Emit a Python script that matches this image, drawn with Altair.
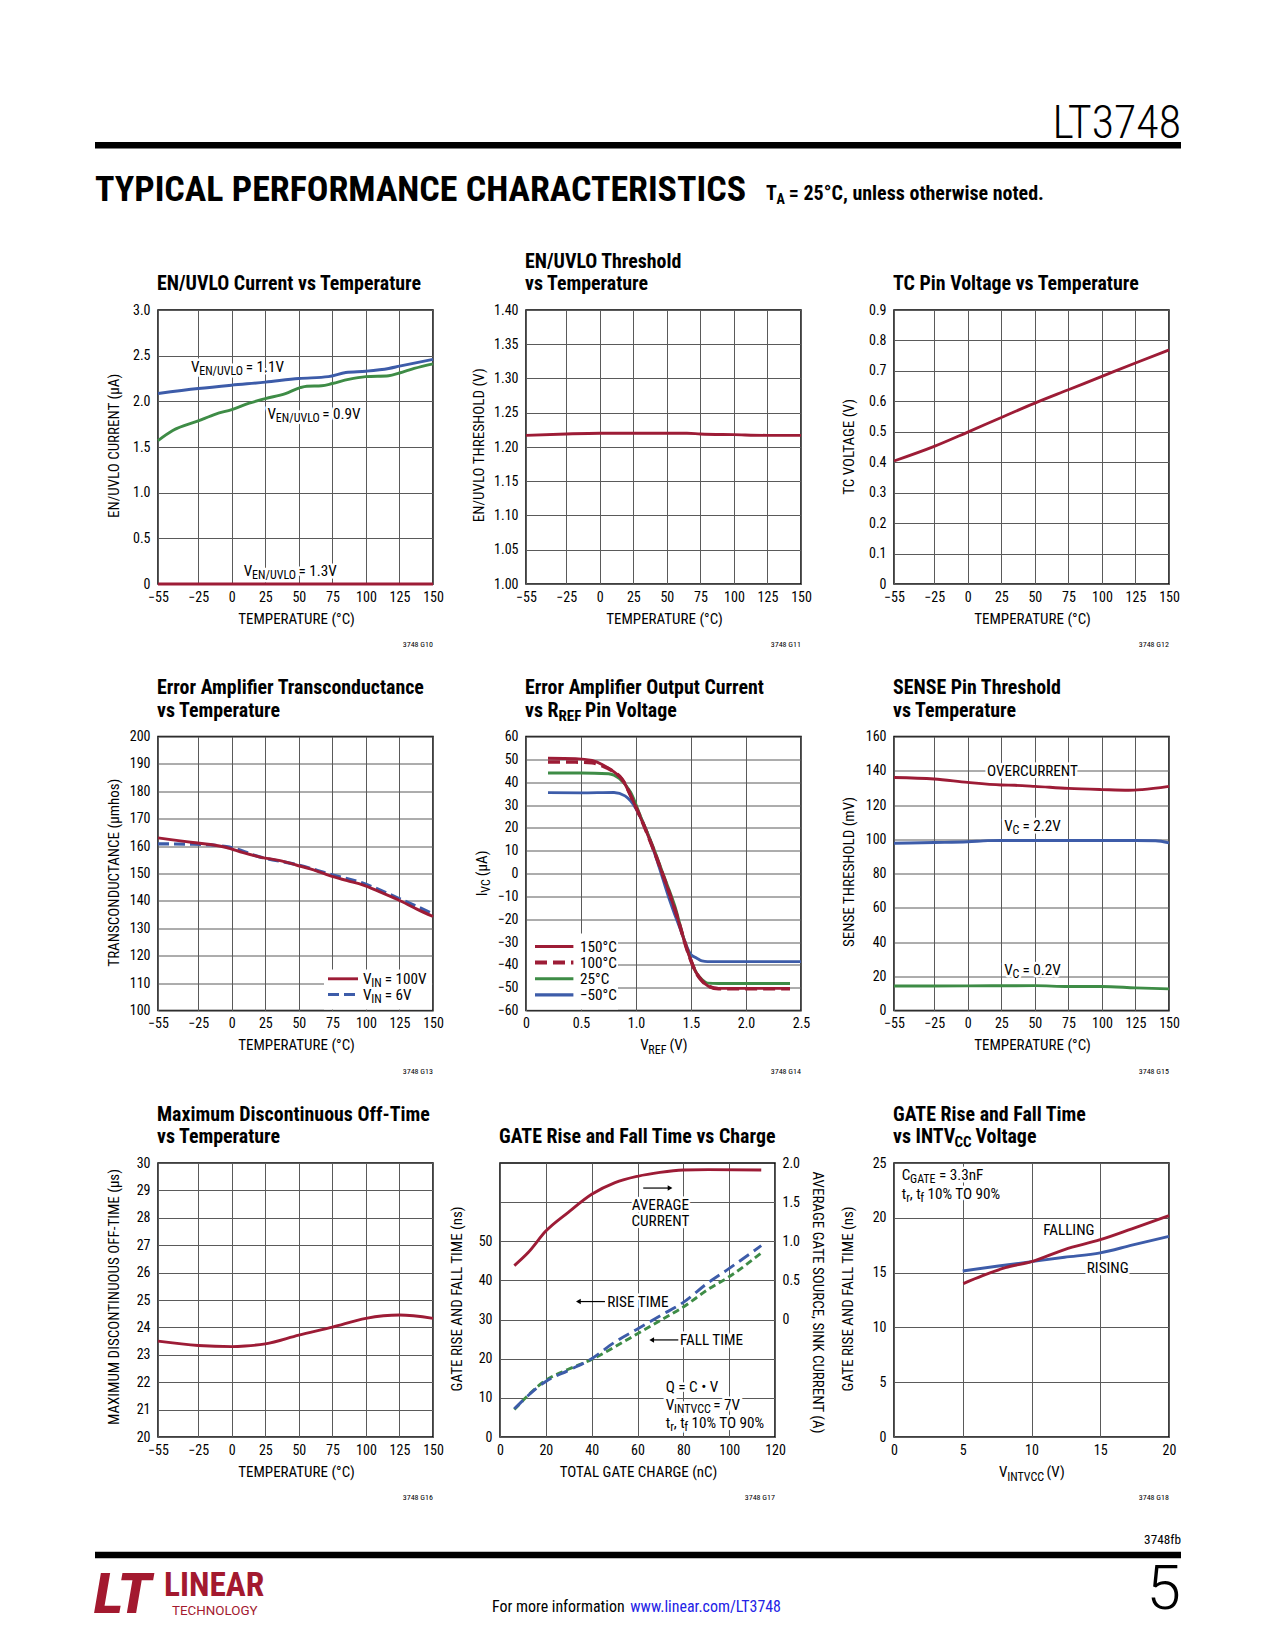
import altair as alt
import pandas as pd

FONT = "Roboto Condensed, Roboto"
WIDEFONT = "Roboto"
RED = "#9d1c36"
BLUE = "#3d5ca9"
GREEN = "#3e8c46"
GRID = "#5a5a5a"
LOGO = "#a3192f"
LINK = "#2323e6"
W, H = 275, 274
TICK = 14
AXT = 15
ANN = 15.2
SUB = 12
TTL = 19.9
LW = 2.9
LBL1 = "datum.value == 0 ? '0' : format(datum.value, '.1f')"

# ---------------- data ----------------
TEMP_TICKS = [-55, -25, 0, 25, 50, 75, 100, 125, 150]

# 1 EN/UVLO current vs temperature
c1_hi_t = [-55, -25, 0, 25, 50, 72, 85, 100, 117, 125, 150]
c1_hi_i = [2.085, 2.14, 2.177, 2.21, 2.25, 2.27, 2.316, 2.33, 2.36, 2.385, 2.46]
c1_lo_t = [-55, -44, -25, -12, 0, 13, 25, 40, 51, 56, 67, 75, 87, 100, 117, 125, 136, 150]
c1_lo_i = [1.57, 1.68, 1.785, 1.86, 1.91, 1.98, 2.03, 2.085, 2.15, 2.165, 2.17, 2.195, 2.24, 2.27, 2.28, 2.31, 2.36, 2.41]
c1_off_t = [-55, 150]
c1_off_i = [0.0, 0.0]

# 2 EN/UVLO threshold
c2_t = [-55, -25, 0, 25, 50, 65, 75, 100, 125, 150]
c2_v = [1.217, 1.219, 1.220, 1.220, 1.220, 1.220, 1.219, 1.218, 1.217, 1.217]

# 3 TC pin voltage
c3_t = [-55, -25, 0, 25, 50, 75, 100, 125, 150]
c3_v = [0.404, 0.452, 0.499, 0.547, 0.594, 0.638, 0.682, 0.726, 0.769]

# 4 transconductance
c4_hv_t = [-55, -29, -16, -4, 8.5, 22, 36, 48, 63, 73, 86, 98, 110, 124, 138, 150]
c4_hv_g = [163.0, 161.3, 160.6, 159.5, 157.6, 155.9, 154.7, 153.1, 151.0, 149.2, 147.4, 145.8, 143.4, 140.4, 137.0, 134.3]
c4_lv_t = [-55, -29, -4, 22, 48, 73, 98, 124, 150]
c4_lv_g = [160.8, 160.7, 159.8, 155.9, 153.3, 149.8, 146.4, 141.0, 135.3]

# 5 error amp output current vs VREF
c5_150_v = [0.2, 0.45, 0.6, 0.7, 0.8, 0.87, 0.99, 1.12, 1.24, 1.36, 1.48, 1.54, 1.6, 1.66, 1.75, 2.4]
c5_150_i = [50.5, 50.3, 49.5, 47.5, 44.5, 41.5, 30, 15.3, 0, -16.7, -35.6, -42.8, -47, -49.4, -50.3, -50.3]
c5_100_v = [0.2, 0.45, 0.6, 0.7, 0.8, 0.87, 0.99, 1.12, 1.24, 1.36, 1.48, 1.54, 1.6, 1.66, 1.75, 2.4]
c5_100_i = [48.8, 48.8, 48.5, 47, 44.5, 41.5, 30, 15.3, 0, -16.7, -35.6, -42.8, -47, -49.4, -50.5, -50.5]
c5_25_v = [0.2, 0.5, 0.75, 0.85, 0.95, 1.05, 1.15, 1.25, 1.35, 1.45, 1.55, 1.6, 1.65, 1.75, 2.4]
c5_25_i = [44, 44, 43.7, 41.5, 35.7, 24, 12.4, -0.7, -13.8, -31, -43.6, -46.5, -48, -48.2, -48.2]
c5_m50_v = [0.2, 0.5, 0.8, 0.9, 1.0, 1.1, 1.2, 1.3, 1.4, 1.5, 1.55, 1.6, 1.65, 2.5]
c5_m50_i = [35.4, 35.3, 35.5, 34, 28.4, 18.2, 4.4, -10.8, -24, -35.6, -37, -38.3, -38.6, -38.6]

# 6 SENSE pin threshold
c6_oc_t = [-55, -25, 0, 25, 35, 50, 75, 100, 120, 130, 150]
c6_oc_v = [136.1, 135.2, 133.2, 131.7, 131.5, 130.9, 129.7, 129.0, 128.6, 129.0, 130.9]
c6_hi_t = [-55, -25, 0, 15, 25, 50, 75, 100, 125, 140, 150]
c6_hi_v = [97.7, 98.1, 98.5, 99.2, 99.3, 99.3, 99.3, 99.3, 99.3, 99.1, 97.9]
c6_lo_t = [-55, 0, 50, 75, 100, 125, 150]
c6_lo_v = [14.3, 14.4, 14.5, 14.0, 14.0, 13.2, 12.6]

# 7 max discontinuous off-time
c7_t = [-55, -25, 0, 10, 25, 50, 75, 100, 125, 150]
c7_v = [23.5, 23.34, 23.3, 23.32, 23.4, 23.72, 24.01, 24.33, 24.45, 24.33]

# 8 gate rise/fall vs charge
c8_avg_q = [6.25, 12.4, 20, 29.8, 40, 50.2, 60, 69.8, 80, 90.9, 114]
c8_avg_a = [0.69, 0.86, 1.13, 1.37, 1.60, 1.75, 1.83, 1.88, 1.91, 1.915, 1.91]
c8_q = [6.25, 20, 29.8, 40, 50, 60, 70, 80, 91, 99.6, 114]
c8_rise = [7.2, 14.2, 17, 20, 24.2, 27.6, 31, 34.4, 39.5, 42.9, 48.9]
c8_fall = [7, 14.5, 17.3, 19.8, 23, 26.4, 29.8, 33.2, 37.8, 40.8, 47]

# 9 gate rise/fall vs INTVCC
c9_fall_v = [5.04, 6.4, 8.1, 10, 12.4, 15, 17.3, 20]
c9_fall_t = [14.0, 14.7, 15.45, 16.0, 17.1, 18.0, 19.0, 20.2]
c9_rise_v = [5, 7.6, 10, 12.4, 15, 17.3, 20]
c9_rise_t = [15.15, 15.6, 16.0, 16.4, 16.8, 17.5, 18.3]

# ---------------- text width estimate (Roboto metrics, condensed factors) ----------------
REG = {' ': 248, '=': 549, '.': 263, ',': 196, '/': 412, '%': 733, '°': 378, '(': 342, ')': 348,
       '•': 350, '−': 567, '-': 276, 'µ': 569}
for ch, v in zip("ABCDEFGHIJKLMNOPQRSTUVWXYZ",
                 [652, 622, 651, 656, 568, 553, 681, 713, 272, 552, 627, 538, 873, 713, 688, 631, 688, 616,
                  593, 597, 649, 636, 887, 627, 601, 599]):
    REG[ch] = v
for ch, v in zip("abcdefghijklmnopqrstuvwxyz",
                 [544, 561, 523, 564, 530, 347, 561, 551, 243, 239, 507, 243, 876, 552, 570, 561, 568, 338,
                  516, 327, 551, 484, 751, 496, 473, 496]):
    REG[ch] = v
for d in "0123456789":
    REG[d] = 561
BOLD = dict(REG)
for ch, v in zip("ABCDEFGHIJKLMNOPQRSTUVWXYZ",
                 [672, 633, 652, 651, 562, 550, 683, 717, 294, 554, 642, 543, 883, 716, 688, 640, 688, 630,
                  614, 614, 660, 660, 880, 640, 625, 600]):
    BOLD[ch] = v
for ch, v in zip("abcdefghijklmnopqrstuvwxyz",
                 [548, 563, 525, 563, 535, 353, 563, 560, 262, 259, 534, 262, 875, 560, 570, 563, 563, 355,
                  523, 334, 560, 507, 745, 513, 499, 508]):
    BOLD[ch] = v
BOLD.update({' ': 244, '.': 277, ',': 228, '%': 746})


def tw(s, size, bold=False, cond=True):
    tab = BOLD if bold else REG
    tot = 0.0
    for c in s:
        w = tab.get(c, 556)
        if cond:
            if c.isupper():
                w *= 0.85
            elif c.islower():
                w *= 0.90
            elif c.isdigit():
                w *= 0.88
            else:
                w *= 0.90
        tot += w
    return tot / 1000.0 * size


def fit(s, width, bold=False, cond=True):
    return round(width / tw(s, 1.0, bold, cond), 2)


ONE = pd.DataFrame({"k": [0]})


def P(v):
    return alt.value(v)


def txt_layer(text, x, y, size, data=ONE, align="left", baseline="alphabetic", weight="normal",
              font=FONT, color="black", angle=0, dx=0, dy=0, halo=False, style="normal"):
    props = dict(text=text, fontSize=size, font=font, fontWeight=weight, align=align,
                 baseline=baseline, angle=angle, dx=dx, dy=dy, fontStyle=style)
    if halo:
        props.update(fill="white", stroke="white", strokeWidth=5, strokeJoin="round")
    else:
        props.update(fill=color)
    return alt.Chart(data).mark_text(**props).encode(x=x, y=y)


def rich(pieces, x, y, data=ONE, size=ANN, sub=SUB, align="left", baseline="middle", bold=False,
         angle=0, color="black", halo=False, font=FONT, subdy=None):
    if subdy is None:
        subdy = round(size * 0.27, 1)
    norm = [(p, False) if isinstance(p, str) else p for p in pieces]
    ws = [tw(t, sub if s else size, bold) for t, s in norm]
    total = sum(ws)
    start = {"left": 0, "center": -total / 2, "right": -total}[align]
    out = []
    for hp in ([True, False] if halo else [False]):
        off = start
        for (t, s), w in zip(norm, ws):
            fs = sub if s else size
            lead = len(t) - len(t.lstrip(" "))
            shown = t.strip(" ")
            if shown:
                out.append(txt_layer(shown, x, y, fs, data=data, baseline=baseline,
                                     weight="bold" if bold else "normal", font=font, color=color,
                                     angle=angle, dx=round(off + tw(" " * lead, fs, bold), 2),
                                     dy=subdy if s else 0, halo=hp))
            off += w
    return out


def axes(xdom, xvals, ydom, yvals, xexpr=None, yexpr=None):
    sx = alt.Scale(domain=xdom, nice=False, zero=False)
    sy = alt.Scale(domain=ydom, nice=False, zero=False)
    ax = alt.Axis(values=xvals, title=None, **({"labelExpr": xexpr} if xexpr else {}))
    ay = alt.Axis(values=yvals, title=None, **({"labelExpr": yexpr} if yexpr else {}))

    def X(f="x"):
        return alt.X(f"{f}:Q", scale=sx, axis=ax)

    def Y(f="y"):
        return alt.Y(f"{f}:Q", scale=sy, axis=ay)
    return X, Y


def line(xs, ys, X, Y, color, width=LW, dash=None):
    df = pd.DataFrame({"x": xs, "y": ys})
    kw = dict(color=color, strokeWidth=width, interpolate="monotone")
    if dash:
        kw["strokeDash"] = dash
    return alt.Chart(df).mark_line(**kw).encode(x=X(), y=Y())


def ann(pieces, xv, yv, X, Y, align="left", halo=True, size=ANN):
    df = pd.DataFrame({"x": [xv], "y": [yv]})
    return rich(pieces, X(), Y(), data=df, align=align, halo=halo, size=size)


def title_layers(lines):
    out = []
    n = len(lines)
    for i, ln in enumerate(lines):
        y = -20 - 22.5 * (n - 1 - i)
        out += rich(ln, P(-1), P(y), size=TTL, sub=15, bold=True, baseline="alphabetic", subdy=4)
    return out


def xtitle(pieces):
    return rich(pieces, P(W / 2), P(H + 39.5), size=AXT, sub=12, align="center", baseline="alphabetic")


def ytitle(pieces, off=-44):
    return rich(pieces, P(off), P(H / 2), size=AXT, sub=12, align="center", baseline="middle", angle=270)


def code(t):
    return [txt_layer(t, P(W), P(H + 61), 8, align="right", baseline="middle")]


def white_rect(x1, x2, y1, y2):
    return alt.Chart(ONE).mark_rect(color="white").encode(x=P(x1), x2=P(x2), y=P(y1), y2=P(y2))


def ghost(x1, x2, y1, y2):
    return alt.Chart(ONE).mark_rect(opacity=0).encode(x=P(x1), x2=P(x2), y=P(y1), y2=P(y2))


def hrule(x1, x2, y, color="black", width=2.9, dash=None):
    kw = dict(color=color, strokeWidth=width)
    if dash:
        kw["strokeDash"] = dash
    return alt.Chart(ONE).mark_rule(**kw).encode(x=P(x1), x2=P(x2), y=P(y))


def arrow(x1, x2, yv, X, Y):
    df = pd.DataFrame({"x": [x1], "x2": [x2], "y": [yv]})
    r = alt.Chart(df).mark_rule(color="black", strokeWidth=1.2).encode(x=X(), x2="x2:Q", y=Y())
    h = alt.Chart(pd.DataFrame({"x": [x2], "y": [yv]})).mark_point(
        shape="triangle-right" if x2 > x1 else "triangle-left", filled=True, size=30,
        color="black", opacity=1).encode(x=X(), y=Y())
    return [r, h]


TEMP_X = ["TEMPERATURE (°C)"]
TOP_EXT, BOT_EXT = 80, 70

# ---------------- page header (relative to chart 1 plot origin) ----------------
HEAD = "TYPICAL PERFORMANCE CHARACTERISTICS"
NOTE = " = 25°C, unless otherwise noted."
header = [
    ghost(-149, 0, -301, H + BOT_EXT),
    txt_layer("LT3748", P(1023), P(-172), fit("LT3748", 135), align="right", weight=300),
    hrule(-63, 1023, -164.7, width=6.5),
    txt_layer(HEAD, P(-63), P(-109), fit(HEAD, 630, bold=True), weight="bold"),
    *rich(["T", ("A", True), NOTE], P(608), P(-110), size=fit("T" + NOTE, 268, bold=True), sub=14,
          bold=True, baseline="alphabetic", subdy=4),
]
# ---------------- page footer (relative to chart 7 plot origin) ----------------
MORE = "For more information "
LINKT = "www.linear.com/LT3748"
FS_MORE = fit(MORE + LINKT, 294)
footer = [
    txt_layer("3748fb", P(1023), P(381), fit("3748fb", 37), align="right"),
    hrule(-63, 1023, 392, width=6.5),
    txt_layer("5", P(1023), P(446), 62, align="right", font=WIDEFONT, weight=300),
    txt_layer(MORE.strip(), P(334), P(449), FS_MORE),
    txt_layer(LINKT, P(round(334 + tw(MORE, FS_MORE), 1)), P(449), FS_MORE, color=LINK),
    txt_layer("LT", P(-64), P(450), fit("LT", 64, bold=True, cond=False), weight=900, font=WIDEFONT,
              color=LOGO, style="italic"),
    txt_layer("LINEAR", P(6), P(433), fit("LINEAR", 97, bold=True), weight="bold", color=LOGO),
    txt_layer("TECHNOLOGY", P(14), P(451.5), fit("TECHNOLOGY", 86, cond=False), font=WIDEFONT, color=LOGO),
]

# ---------------- chart 1 ----------------
X1, Y1 = axes([-55, 150], TEMP_TICKS, [0, 3], [0, 0.5, 1.0, 1.5, 2.0, 2.5, 3.0], yexpr=LBL1)
c1 = alt.layer(
    *header,
    *ann(["V", ("EN/UVLO", True), " = 1.1V"], -30.4, 2.38, X1, Y1),
    *ann(["V", ("EN/UVLO", True), " = 0.9V"], 26.7, 1.86, X1, Y1),
    *ann(["V", ("EN/UVLO", True), " = 1.3V"], 9, 0.14, X1, Y1),
    line(c1_hi_t, c1_hi_i, X1, Y1, BLUE),
    line(c1_lo_t, c1_lo_i, X1, Y1, GREEN),
    line(c1_off_t, c1_off_i, X1, Y1, RED),
    *title_layers([["EN/UVLO Current vs Temperature"]]),
    *xtitle(TEMP_X),
    *ytitle(["EN/UVLO CURRENT (µA)"], -44),
    *code("3748 G10"),
).properties(width=W, height=H)

# ---------------- chart 2 ----------------
X2, Y2 = axes([-55, 150], TEMP_TICKS, [1.0, 1.4],
              [1.0, 1.05, 1.1, 1.15, 1.2, 1.25, 1.3, 1.35, 1.4], yexpr="format(datum.value, '.2f')")
c2 = alt.layer(
    line(c2_t, c2_v, X2, Y2, RED),
    *title_layers([["EN/UVLO Threshold"], ["vs Temperature"]]),
    *xtitle(TEMP_X),
    *ytitle(["EN/UVLO THRESHOLD (V)"], -47),
    *code("3748 G11"),
).properties(width=W, height=H)

# ---------------- chart 3 ----------------
X3, Y3 = axes([-55, 150], TEMP_TICKS, [0, 0.9],
              [0, 0.1, 0.2, 0.3, 0.4, 0.5, 0.6, 0.7, 0.8, 0.9], yexpr=LBL1)
c3 = alt.layer(
    line(c3_t, c3_v, X3, Y3, RED),
    *title_layers([["TC Pin Voltage vs Temperature"]]),
    *xtitle(TEMP_X),
    *ytitle(["TC VOLTAGE (V)"], -45),
    *code("3748 G12"),
).properties(width=W, height=H)

# ---------------- chart 4 ----------------
X4, Y4 = axes([-55, 150], TEMP_TICKS, [100, 200], list(range(100, 201, 10)))
c4 = alt.layer(
    ghost(-149, 0, -TOP_EXT, H + BOT_EXT),
    white_rect(166, 274, 233, 273),
    line(c4_lv_t, c4_lv_g, X4, Y4, BLUE, width=3.2, dash=[11, 5]),
    line(c4_hv_t, c4_hv_g, X4, Y4, RED),
    hrule(170, 200, 242.3, RED),
    hrule(170, 200, 258, BLUE, 3.2, [11, 5]),
    *rich(["V", ("IN", True), " = 100V"], P(205), P(242.3)),
    *rich(["V", ("IN", True), " = 6V"], P(205), P(258)),
    *title_layers([["Error Amplifier Transconductance"], ["vs Temperature"]]),
    *xtitle(TEMP_X),
    *ytitle(["TRANSCONDUCTANCE (µmhos)"], -44),
    *code("3748 G13"),
).properties(width=W, height=H)

# ---------------- chart 5 ----------------
X5, Y5 = axes([0, 2.5], [0, 0.5, 1.0, 1.5, 2.0, 2.5], [-60, 60], list(range(-60, 61, 10)), xexpr=LBL1)
leg5 = [("150°C", RED, None, 2.9), ("100°C", RED, [12, 6], 3.8), ("25°C", GREEN, None, 2.9),
        ("−50°C", BLUE, None, 3.2)]
leg5_y = [210, 226, 242.3, 258.3]
leg5_layers = [white_rect(1, 92, 197, 273)]
for (lab, col, dsh, wd), yy in zip(leg5, leg5_y):
    leg5_layers.append(hrule(9, 47.4, yy, col, wd, dsh))
    leg5_layers.append(txt_layer(lab, P(54), P(yy), ANN, baseline="middle"))
c5 = alt.layer(
    *leg5_layers,
    line(c5_m50_v, c5_m50_i, X5, Y5, BLUE),
    line(c5_25_v, c5_25_i, X5, Y5, GREEN),
    line(c5_100_v, c5_100_i, X5, Y5, RED, width=3.6, dash=[12, 6]),
    line(c5_150_v, c5_150_i, X5, Y5, RED),
    *title_layers([["Error Amplifier Output Current"], ["vs R", ("REF", True), " Pin Voltage"]]),
    *xtitle(["V", ("REF", True), " (V)"]),
    *ytitle(["I", ("VC", True), " (µA)"], -44),
    *code("3748 G14"),
).properties(width=W, height=H)

# ---------------- chart 6 ----------------
X6, Y6 = axes([-55, 150], TEMP_TICKS, [0, 160], list(range(0, 161, 20)))
c6 = alt.layer(
    *ann(["OVERCURRENT"], 47.6, 140, X6, Y6, align="center"),
    *ann(["V", ("C", True), " = 2.2V"], 48, 107.6, X6, Y6, align="center"),
    *ann(["V", ("C", True), " = 0.2V"], 48, 23.7, X6, Y6, align="center"),
    line(c6_oc_t, c6_oc_v, X6, Y6, RED),
    line(c6_hi_t, c6_hi_v, X6, Y6, BLUE),
    line(c6_lo_t, c6_lo_v, X6, Y6, GREEN),
    *title_layers([["SENSE Pin Threshold"], ["vs Temperature"]]),
    *xtitle(TEMP_X),
    *ytitle(["SENSE THRESHOLD (mV)"], -45),
    *code("3748 G15"),
).properties(width=W, height=H)

# ---------------- chart 7 ----------------
X7, Y7 = axes([-55, 150], TEMP_TICKS, [20, 30], list(range(20, 31)))
c7 = alt.layer(
    ghost(-149, 0, -TOP_EXT, H + BOT_EXT),
    line(c7_t, c7_v, X7, Y7, RED),
    *title_layers([["Maximum Discontinuous Off-Time"], ["vs Temperature"]]),
    *xtitle(TEMP_X),
    *ytitle(["MAXIMUM DISCONTINUOUS OFF-TIME (µs)"], -44),
    *code("3748 G16"),
    *footer,
).properties(width=W, height=H)

# ---------------- chart 8 ----------------
X8, Y8 = axes([0, 120], [0, 20, 40, 60, 80, 100, 120], [0, 70], [0, 10, 20, 30, 40, 50, 60],
              yexpr="datum.value > 50 ? '' : datum.label")
sy8r = alt.Scale(domain=[-1.5, 2.0], nice=False, zero=False)
ay8r = alt.Axis(values=[0, 0.5, 1.0, 1.5, 2.0], title=None, orient="right", grid=False,
                labelExpr=LBL1, labelPadding=7)
left8 = alt.layer(
    *ann(["AVERAGE"], 69.8, 59.3, X8, Y8, align="center"),
    *ann(["CURRENT"], 69.8, 55.3, X8, Y8, align="center"),
    *ann(["RISE TIME"], 46.8, 34.6, X8, Y8),
    *ann(["FALL TIME"], 78.5, 24.8, X8, Y8),
    *ann(["Q = C • V"], 72.3, 12.8, X8, Y8),
    *ann(["V", ("INTVCC", True), " = 7V"], 72.3, 8.25, X8, Y8),
    *ann(["t", ("r", True), ", t", ("f", True), " 10% TO 90%"], 72.3, 3.5, X8, Y8),
    *arrow(62.5, 74.2, 63.6, X8, Y8),
    *arrow(45.8, 34.2, 34.6, X8, Y8),
    *arrow(77.8, 66.2, 24.8, X8, Y8),
    line(c8_q, c8_fall, X8, Y8, GREEN, dash=[7, 4]),
    line(c8_q, c8_rise, X8, Y8, BLUE, dash=[12, 6]),
    *title_layers([["GATE Rise and Fall Time vs Charge"]]),
    *xtitle(["TOTAL GATE CHARGE (nC)"]),
    *ytitle(["GATE RISE AND FALL TIME (ns)"], -43),
    *rich(["AVERAGE GATE SOURCE, SINK CURRENT (A)"], P(W + 43.4), P(H / 2), size=AXT, align="center",
          baseline="middle", angle=90),
    *code("3748 G17"),
)
red8 = alt.Chart(pd.DataFrame({"x": c8_avg_q, "y": c8_avg_a})).mark_line(
    color=RED, strokeWidth=LW, interpolate="monotone").encode(
    x=X8(), y=alt.Y("y:Q", scale=sy8r, axis=ay8r))
c8 = alt.layer(left8, red8).resolve_scale(y="independent").properties(width=W, height=H)

# ---------------- chart 9 ----------------
X9, Y9 = axes([0, 20], [0, 5, 10, 15, 20], [0, 25], [0, 5, 10, 15, 20, 25])
c9 = alt.layer(
    *ann(["C", ("GATE", True), " = 3.3nF"], 0.56, 23.9, X9, Y9),
    *ann(["t", ("r", True), ", t", ("f", True), " 10% TO 90%"], 0.56, 22.2, X9, Y9),
    *ann(["FALLING"], 12.7, 18.9, X9, Y9, align="center"),
    *ann(["RISING"], 15.5, 15.4, X9, Y9, align="center"),
    line(c9_rise_v, c9_rise_t, X9, Y9, BLUE),
    line(c9_fall_v, c9_fall_t, X9, Y9, RED),
    *title_layers([["GATE Rise and Fall Time"], ["vs INTV", ("CC", True), " Voltage"]]),
    *xtitle(["V", ("INTVCC", True), " (V)"]),
    *ytitle(["GATE RISE AND FALL TIME (ns)"], -45.6),
    *code("3748 G18"),
).properties(width=W, height=H)


def spacer(w):
    return alt.Chart(ONE).mark_point(opacity=0).encode(x=P(0), y=P(0)).properties(
        width=w, height=H, view=alt.ViewBackground(strokeOpacity=0))


row1 = alt.hconcat(c1, c2, c3, spacing=93, bounds="flush")
row2 = alt.hconcat(c4, c5, c6, spacing=93, bounds="flush")
row3 = alt.hconcat(c7, spacer(66.3), c8, spacer(119), c9, spacing=0, bounds="flush")

chart = alt.vconcat(row1, row2, row3, spacing=0.5).properties(padding=0).configure_axis(
    labelFont=FONT, labelFontSize=TICK, labelColor="black", grid=True, gridColor=GRID, gridWidth=1,
    domain=False, ticks=False, tickSize=0, labelFlush=False, labelOverlap=False,
).configure_axisX(labelPadding=6).configure_axisY(labelPadding=8).configure_view(
    stroke="black", strokeWidth=1.5)

chart.save("out.html", embed_options={"renderer": "svg", "actions": False})
